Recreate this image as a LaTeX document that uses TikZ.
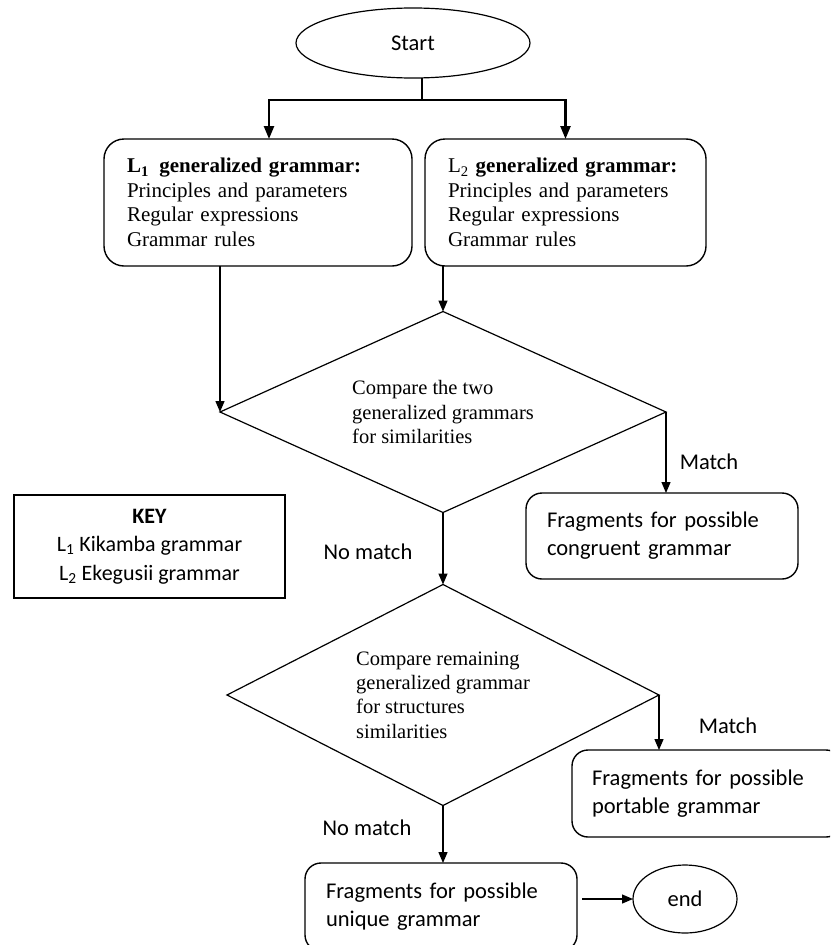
\documentclass[tikz,border=0pt]{standalone}
\usepackage{fontspec}
\setmainfont{Liberation Serif}
\newfontfamily\calibri{Carlito}
\usetikzlibrary{shapes.geometric,arrows.meta}

\begin{document}
\begin{tikzpicture}[x=1pt,y=-1pt,
  every node/.style={inner sep=0pt, outer sep=0pt},
  serifbox/.style={draw, line width=1.4pt, rounded corners=20pt,
    font=\fontsize{21}{24.5}\selectfont, align=left, inner xsep=23pt},
  sansbox/.style={draw, line width=1.4pt, rounded corners=16pt,
    font=\calibri\fontsize{22.5}{28}\selectfont, align=left, inner xsep=21pt},
  keybox/.style={draw, line width=1.4pt,
    font=\calibri\fontsize{22}{28.5}\selectfont, align=center},
  decision/.style={draw, diamond, aspect=2.2, line width=1.2pt,
    font=\fontsize{20.5}{24.3}\selectfont, align=left},
  terminal/.style={draw, ellipse, line width=1.2pt,
    font=\calibri\fontsize{22.5}{27}\selectfont},
  lab/.style={font=\calibri\fontsize{22.5}{27}\selectfont},
  conn/.style={line width=1.3pt, -{Triangle[length=11pt,width=9pt]}},
  bus/.style={line width=2.4pt},
  busarr/.style={bus, -{Triangle[length=13pt,width=10pt]}}
]
\useasboundingbox (0,0) rectangle (830,945);
\fill[white] (0,0) rectangle (830,945);
\clip (0,0) rectangle (830,945);

% terminals
\node[terminal, minimum width=234pt, minimum height=70pt] (start) at (413,43) {Start};
\node[terminal, minimum width=104pt, minimum height=68pt] (end) at (685,899) {end};

% grammar boxes
\node[serifbox, text width=262pt, minimum height=127pt] (l1) at (258,202.5)
  {\textbf{L\textsubscript{1}\, generalized grammar:}\\Principles and parameters\\Regular expressions\\Grammar rules};
\node[serifbox, text width=235pt, minimum height=127pt] (l2) at (565.5,202.5)
  {L\textsubscript{2} \textbf{generalized grammar:}\\Principles and parameters\\Regular expressions\\Grammar rules};

% decisions
\node[decision, minimum width=446pt, minimum height=201pt] (d1) at (443,412)
  {Compare the two\\generalized grammars\\for similarities};
\node[decision, minimum width=432pt, minimum height=221pt] (d2) at (443,695)
  {Compare remaining\\generalized grammar\\for structures\\similarities};

% key
\node[keybox, minimum width=271pt, minimum height=103pt] (key) at (149.5,546.5)
  {\textbf{KEY}\\L\textsubscript{1} Kikamba grammar\\L\textsubscript{2} Ekegusii grammar};

% outcome boxes
\node[sansbox, text width=230pt, minimum height=86pt] (cong) at (662,536)
  {Fragments for possible\\congruent grammar};
\node[sansbox, text width=230pt, inner xsep=20pt, minimum height=87pt] (port) at (707,793.5)
  {Fragments for possible\\portable grammar};
\node[sansbox, text width=230pt, minimum height=88pt] (uniq) at (441,907)
  {Fragments for possible\\unique grammar};

% branch labels
\node[lab] (m1) at (709,462) {Match};
\node[lab] (n1) at (368,552) {No match};
\node[lab] (m2) at (728,726) {Match};
\node[lab] (n2) at (367,828) {No match};

% connectors
\coordinate (j) at (422,100);
\draw[bus] (start.south -| j) -- (j);
\draw[busarr] (j) -| ([xshift=11pt]l1.north);
\draw[busarr] (j) -| (l2.north);
\draw[conn] (l1.south -| d1.west) -- (d1.west);
\draw[conn] (l2.south -| d1.north) -- (d1.north);
\draw[conn] (d1.east) -- (d1.east |- cong.north);
\draw[conn] (d1.south) -- (d2.north);
\draw[conn] (d2.east) -- (d2.east |- port.north);
\draw[conn] (d2.south) -- (d2.south |- uniq.north);
\draw[conn] ([xshift=5pt]uniq.east |- end.west) -- (end.west);
\end{tikzpicture}
\end{document}
